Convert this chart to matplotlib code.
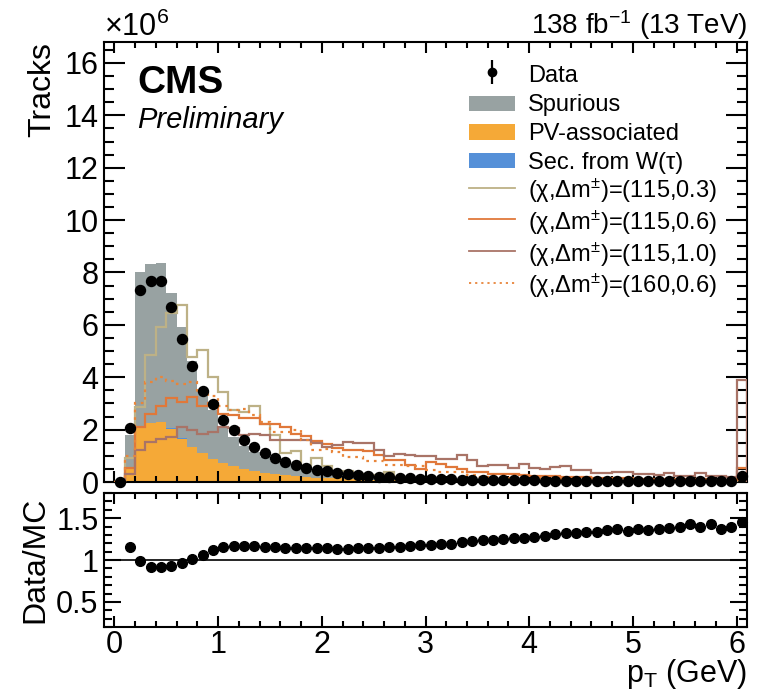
import numpy as np
import matplotlib
matplotlib.use("Agg")
import matplotlib.pyplot as plt
from matplotlib.ticker import MultipleLocator, FuncFormatter
from matplotlib.lines import Line2D
from matplotlib.patches import Patch, Rectangle
from matplotlib.legend_handler import HandlerPatch

plt.rcParams['font.family'] = ['Liberation Sans', 'DejaVu Sans']
plt.rcParams['mathtext.fontset'] = 'custom'
plt.rcParams['mathtext.rm'] = 'Liberation Sans'
plt.rcParams['mathtext.it'] = 'Liberation Sans:italic'
plt.rcParams['mathtext.bf'] = 'Liberation Sans:bold'

# ---------------- data (units of 10^6 tracks) ----------------
bin_edges = [0.0, 0.1, 0.2, 0.3, 0.4, 0.5, 0.6, 0.7, 0.8, 0.9, 1.0,
             1.1, 1.2, 1.3, 1.4, 1.5, 1.6, 1.7, 1.8, 1.9, 2.0,
             2.1, 2.2, 2.3, 2.4, 2.5, 2.6, 2.7, 2.8, 2.9, 3.0,
             3.1, 3.2, 3.3, 3.4, 3.5, 3.6, 3.7, 3.8, 3.9, 4.0,
             4.1, 4.2, 4.3, 4.4, 4.5, 4.6, 4.7, 4.8, 4.9, 5.0,
             5.1, 5.2, 5.3, 5.4, 5.5, 5.6, 5.7, 5.8, 5.9, 6.0, 6.1]

data = [0.0, 2.08, 7.35, 7.67, 7.69, 6.70, 5.47, 4.42, 3.47, 2.97,
        2.38, 1.97, 1.61, 1.34, 1.10, 0.93, 0.77, 0.64, 0.54, 0.46,
        0.41, 0.35, 0.30, 0.26, 0.23, 0.20, 0.18, 0.16, 0.14, 0.13,
        0.12, 0.11, 0.10, 0.09, 0.085, 0.08, 0.075, 0.07, 0.065, 0.06,
        0.058, 0.055, 0.052, 0.05, 0.048, 0.046, 0.044, 0.042, 0.04, 0.039,
        0.038, 0.037, 0.036, 0.035, 0.034, 0.033, 0.032, 0.031, 0.030, 0.030,
        0.23]

spurious = [0.0, 1.28, 5.9, 6.04, 6.05, 5.16, 4.24, 3.26, 2.41, 1.86,
            1.37, 1.10, 0.88, 0.73, 0.59, 0.50, 0.40, 0.33, 0.27, 0.24,
            0.21, 0.17, 0.15, 0.127, 0.11, 0.093, 0.085, 0.071, 0.058, 0.054,
            0.05, 0.045, 0.042, 0.036, 0.034, 0.033, 0.03, 0.029, 0.026, 0.0235,
            0.022, 0.02, 0.019, 0.0186, 0.018, 0.017, 0.016, 0.016, 0.014, 0.015,
            0.014, 0.014, 0.013, 0.012, 0.012, 0.012, 0.012, 0.012, 0.011, 0.011,
            0.09]

pv_associated = [0.0, 0.5, 2.1, 2.26, 2.3, 2.04, 1.66, 1.34, 1.09, 0.89,
                 0.73, 0.60, 0.50, 0.42, 0.36, 0.31, 0.27, 0.23, 0.20, 0.17,
                 0.15, 0.14, 0.12, 0.10, 0.09, 0.08, 0.07, 0.065, 0.06, 0.055,
                 0.05, 0.045, 0.04, 0.037, 0.034, 0.031, 0.029, 0.027, 0.025, 0.023,
                 0.022, 0.021, 0.02, 0.019, 0.018, 0.017, 0.016, 0.015, 0.015, 0.014,
                 0.014, 0.013, 0.013, 0.012, 0.012, 0.011, 0.011, 0.010, 0.010, 0.010,
                 0.07]

sec_from_w = [0.0, 0.001, 0.004, 0.005, 0.005, 0.005, 0.004, 0.004, 0.003, 0.003,
              0.003, 0.002, 0.002, 0.002, 0.002, 0.002, 0.001, 0.001, 0.001, 0.001,
              0.001, 0.001, 0.001, 0.001, 0.001, 0.001, 0.001, 0.001, 0.001, 0.001,
              0.001, 0.001, 0.001, 0.001, 0.001, 0.001, 0.001, 0.001, 0.001, 0.001,
              0.001, 0.001, 0.001, 0.001, 0.001, 0.001, 0.001, 0.001, 0.001, 0.001,
              0.001, 0.001, 0.001, 0.001, 0.001, 0.001, 0.001, 0.001, 0.001, 0.001,
              0.002]

sig_115_03 = [0.0, 0.9, 2.87, 4.84, 5.93, 6.46, 6.76, 4.78, 5.03, 4.0,
              3.45, 2.74, 2.68, 2.9, 2.23, 1.78, 1.1, 1.2, 0.6, 0.9,
              0.62, 0.35, 0.42, 0.3, 0.28, 0.22, 0.38, 0.18, 0.15, 0.12,
              0.11, 0.10, 0.09, 0.08, 0.075, 0.07, 0.065, 0.06, 0.055, 0.05,
              0.048, 0.046, 0.044, 0.042, 0.04, 0.039, 0.038, 0.037, 0.036, 0.035,
              0.034, 0.033, 0.032, 0.031, 0.03, 0.03, 0.03, 0.03, 0.03, 0.03,
              0.2]

sig_115_06 = [0.0, 0.55, 2.1, 2.6, 2.9, 3.2, 3.05, 3.25, 2.9, 3.0,
              2.6, 2.55, 2.45, 2.45, 2.2, 2.2, 2.1, 1.85, 1.75, 1.55,
              1.45, 1.3, 1.24, 1.24, 1.17, 1.05, 0.85, 0.85, 0.64, 0.48,
              0.76, 0.68, 0.57, 0.48, 0.38, 0.38, 0.32, 0.32, 0.29, 0.27,
              0.22, 0.22, 0.22, 0.20, 0.19, 0.18, 0.17, 0.16, 0.15, 0.14,
              0.13, 0.12, 0.12, 0.11, 0.11, 0.10, 0.10, 0.09, 0.09, 0.08,
              0.54]

sig_115_10 = [0.0, 0.32, 1.21, 1.53, 1.66, 1.72, 2.1, 1.98, 1.85, 1.9,
              2.1, 2.05, 1.78, 1.85, 1.78, 1.6, 1.6, 1.6, 1.59, 1.5,
              1.35, 1.4, 1.53, 1.5, 1.49, 1.21, 0.98, 1.08, 1.05, 0.98,
              0.98, 0.87, 0.87, 1.02, 0.83, 0.6, 0.64, 0.64, 0.55, 0.68,
              0.55, 0.48, 0.57, 0.6, 0.45, 0.45, 0.34, 0.34, 0.38, 0.38,
              0.32, 0.32, 0.28, 0.36, 0.22, 0.22, 0.34, 0.23, 0.22, 0.19,
              3.89]

sig_160_06 = [0.0, 1.0, 3.0, 3.8, 4.0, 3.85, 3.75, 3.8, 3.45, 3.3,
              2.9, 2.75, 2.77, 2.55, 2.3, 1.91, 1.9, 1.97, 1.6, 1.21,
              1.25, 1.15, 0.96, 0.96, 0.79, 0.79, 0.64, 0.64, 0.6, 0.6,
              0.45, 0.38, 0.38, 0.38, 0.25, 0.2, 0.18, 0.17, 0.16, 0.15,
              0.14, 0.13, 0.125, 0.12, 0.115, 0.11, 0.105, 0.1, 0.095, 0.09,
              0.085, 0.08, 0.078, 0.075, 0.072, 0.07, 0.068, 0.065, 0.062, 0.06,
              0.2]

ratio = [np.nan, 1.157, 0.99, 0.913, 0.913, 0.93, 0.96, 1.016, 1.06, 1.114,
         1.15, 1.165, 1.17, 1.165, 1.16, 1.154, 1.146, 1.142, 1.138, 1.138,
         1.138, 1.134, 1.134, 1.138, 1.142, 1.146, 1.15, 1.157, 1.165, 1.177,
         1.185, 1.19, 1.19, 1.217, 1.224, 1.236, 1.244, 1.256, 1.264, 1.26,
         1.276, 1.29, 1.31, 1.327, 1.323, 1.33, 1.34, 1.354, 1.366, 1.346,
         1.37, 1.358, 1.37, 1.38, 1.39, 1.425, 1.40, 1.433, 1.366, 1.39,
         1.45]

background_labels = ['Data', 'Spurious', 'PV-associated', 'Sec. from W(τ)']
signal_labels = ["(χ,Δm$^{\\pm}$)=(115,0.3)", "(χ,Δm$^{\\pm}$)=(115,0.6)",
                 "(χ,Δm$^{\\pm}$)=(115,1.0)", "(χ,Δm$^{\\pm}$)=(160,0.6)"]

# ---------------- styling ----------------
c_spur = '#98a2a2'
c_pv = '#f5a937'
c_secw = '#5590d8'
c_s03 = '#bdb186'
c_s06 = '#e0783a'
c_s10 = '#a97467'
c_s1606 = '#e8853a'

edges = np.array(bin_edges)
centers = 0.5 * (edges[:-1] + edges[1:])
scale = 1e6

fig = plt.figure(figsize=(7.6, 6.98), dpi=100)
ax = fig.add_axes([104/760, 1-482/698, (747-104)/760, (482-42)/698])
axr = fig.add_axes([104/760, 1-627/698, (747-104)/760, (627-493)/698], sharex=ax)

# stacked backgrounds
ax.hist([centers, centers, centers], bins=edges,
        weights=[np.array(pv_associated)*scale, np.array(sec_from_w)*scale, np.array(spurious)*scale],
        stacked=True, histtype='stepfilled', color=[c_pv, c_secw, c_spur], linewidth=0, zorder=1)

# signals
lw = 1.6
dot = (0, (1.2, 2.2))
ax.stairs(np.array(sig_115_03)*scale, edges, color=c_s03, lw=lw, zorder=3)
ax.stairs(np.array(sig_115_06)*scale, edges, color=c_s06, lw=lw, zorder=3)
ax.stairs(np.array(sig_115_10)*scale, edges, color=c_s10, lw=lw, zorder=3)
ax.stairs(np.array(sig_160_06)*scale, edges, color=c_s1606, lw=lw, ls=dot, zorder=3)

# data
ax.plot(centers, np.array(data)*scale, 'o', color='black', ms=7.2, zorder=5, clip_on=False)

ax.set_xlim(-0.1, 6.1)
ax.yaxis.set_major_locator(MultipleLocator(2e6))
ax.yaxis.set_minor_locator(MultipleLocator(0.5e6))
ax.set_ylim(0, 16.8e6)
ax.yaxis.set_major_formatter(FuncFormatter(lambda v, p: f"{v/1e6:.0f}"))
ax.xaxis.set_major_locator(MultipleLocator(1))
ax.xaxis.set_minor_locator(MultipleLocator(0.2))
ax.tick_params(axis='x', labelbottom=False)

for a in (ax, axr):
    for s in a.spines.values():
        s.set_linewidth(1.5)
    a.tick_params(which='both', direction='in', top=True, right=True, width=1.5, labelsize=22, pad=4)
    a.tick_params(axis='x', which='major', length=8, pad=2)
    a.tick_params(axis='x', which='minor', length=4)
ax.tick_params(axis='y', which='major', length=15)
ax.tick_params(axis='y', which='minor', length=7)

ax.set_ylabel('Tracks', fontsize=23, loc='top', labelpad=5)
fig.text(104/760, 1-36/698, r'$\times$10$^{6}$', fontsize=22, ha='left', va='baseline')
fig.text(747/760, 1-34/698, r'138 fb$^{-1}$ (13 TeV)', fontsize=20, ha='right', va='baseline')
ax.text(0.052, 0.884, 'CMS', transform=ax.transAxes, fontsize=28, fontweight='bold', ha='left', va='baseline')
ax.text(0.052, 0.805, 'Preliminary', transform=ax.transAxes, fontsize=21, style='italic', ha='left', va='baseline')


# legend
def small_rect(legend, orig_handle, xdescent, ydescent, width, height, fontsize):
    return Rectangle((-xdescent, -ydescent + 0.2 * height), width, 0.6 * height)


h_data = ax.errorbar([np.nan], [np.nan], yerr=[1.0], fmt='o', color='black', ms=6, elinewidth=1.6)
handles = [h_data,
           Patch(facecolor=c_spur, edgecolor='none'),
           Patch(facecolor=c_pv, edgecolor='none'),
           Patch(facecolor=c_secw, edgecolor='none'),
           Line2D([], [], color=c_s03, lw=1.3),
           Line2D([], [], color=c_s06, lw=1.3),
           Line2D([], [], color=c_s10, lw=1.3),
           Line2D([], [], color=c_s1606, lw=1.3, ls=dot)]
ax.legend(handles, background_labels + signal_labels, loc='upper left',
          bbox_to_anchor=(457/760, 1-50/698),
          bbox_transform=fig.transFigure, frameon=False, fontsize=17,
          handlelength=1.95, handleheight=1.26, handletextpad=0.55, labelspacing=0.14, borderpad=0,
          handler_map={Patch: HandlerPatch(patch_func=small_rect)})

# ratio panel
axr.axhline(1.0, color='black', lw=1.2, zorder=1)
axr.plot(centers, ratio, 'o', color='black', ms=7, zorder=5, clip_on=False)
axr.set_ylim(0.2, 1.8)
axr.set_yticks([0.5, 1.0, 1.5])
axr.set_yticklabels(['0.5', '1', '1.5'])
axr.yaxis.set_minor_locator(MultipleLocator(0.1))
axr.tick_params(axis='y', which='major', length=12)
axr.tick_params(axis='y', which='minor', length=6)
axr.set_ylabel('Data/MC', fontsize=23, labelpad=4)
axr.set_xlim(-0.1, 6.1)
fig.text(747/760, 1-682/698, r'p$_{\mathrm{T}}$ (GeV)', fontsize=22, ha='right', va='baseline')

fig.savefig('out.png', dpi=100)
